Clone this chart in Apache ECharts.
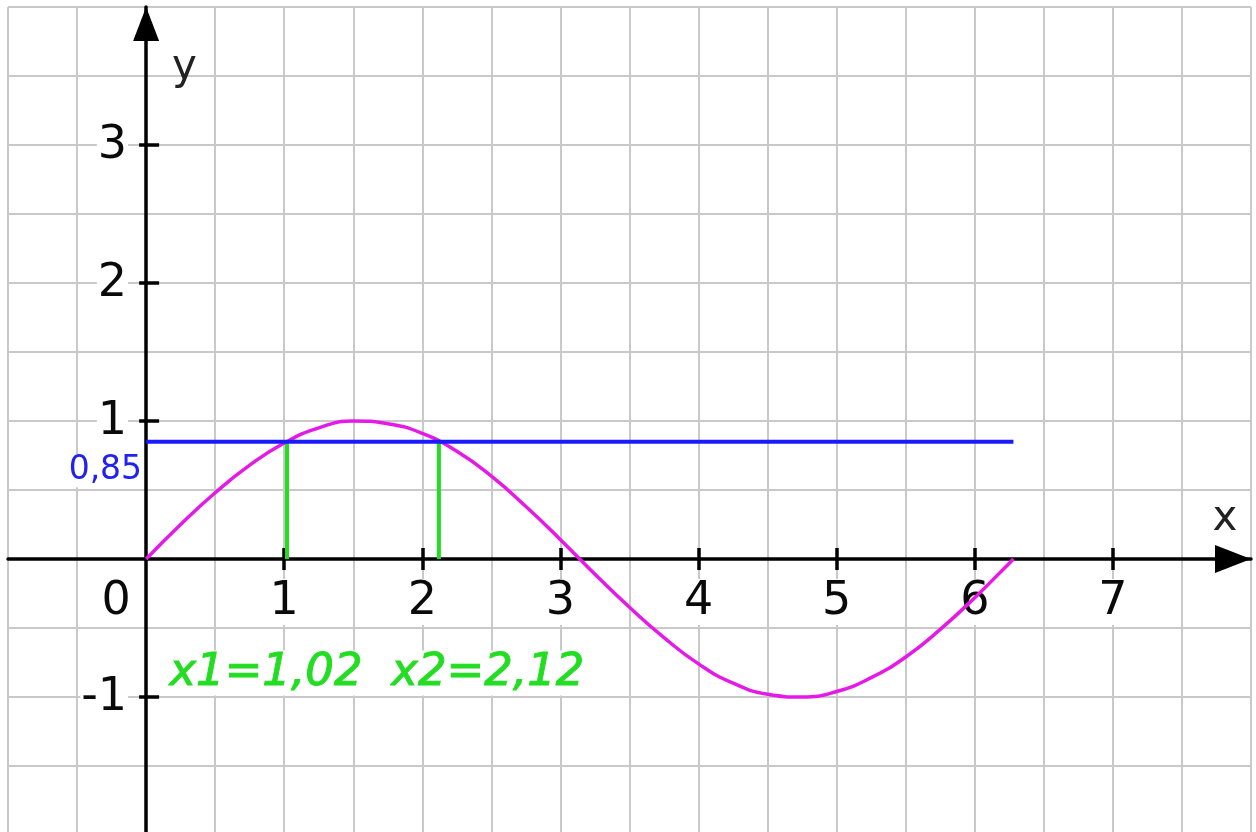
<!DOCTYPE html>
<html>
<head>
<meta charset="utf-8">
<script src="https://cdn.jsdelivr.net/npm/echarts@6/dist/echarts.min.js"></script>
<style>
  html, body { margin: 0; padding: 0; background: #ffffff; }
  #chart { width: 1256px; height: 832px; }
</style>
</head>
<body>
<div id="chart"></div>
<script>
// y = sin x over one period, sampled along the curve
const curveX = [0, 0.25, 0.5, 0.75, 1, 1.25, 1.5, 1.75, 2, 2.25, 2.5, 2.75, 3, 3.25,
  3.5, 3.75, 4, 4.25, 4.5, 4.75, 5, 5.25, 5.5, 5.75, 6, 6.25, 6.28];
const curveY = [0, 0.25, 0.48, 0.68, 0.84, 0.95, 1.0, 0.98, 0.91, 0.78, 0.6, 0.38, 0.14, -0.11,
  -0.35, -0.57, -0.76, -0.9, -0.98, -1.0, -0.96, -0.86, -0.71, -0.51, -0.28, -0.03, 0];

// horizontal level y = 0.85 and its crossings with the curve
const level = 0.85;
const levelStartX = 0;
const levelEndX = 6.28;
const roots = [1.02, 2.12];

// axis ticks and labels
const xTickValues = [1, 2, 3, 4, 5, 6, 7];
const xLabelValues = [0, 1, 2, 3, 4, 5, 6, 7];
const yTickValues = [-1, 1, 2, 3];
const yLabelValues = [-1, 1, 2, 3];

const FONT = 'DejaVu Sans';
const GRID_COLOR = '#c9c9c9';
const AXIS_COLOR = '#000000';
const TEXT_COLOR = '#0a0a0a';
const CURVE_COLOR = '#e61ae6';
const LEVEL_COLOR = '#1a1aff';
const ROOT_COLOR = '#22dd22';

// label offsets (pixels)
const rootLabelOffsets = [[-21, 114], [49, 114]];
const xLabelOffset = [0, 43];
const originLabelOffset = [-30, 43];

const fmt = v => v.toFixed(2).replace('.', ',');

const chart = echarts.init(document.getElementById('chart'), null, { renderer: 'canvas' });

const X_RANGE = { min: -1, max: 8 };
const Y_RANGE = { min: -2, max: 4 };
const tickLine = { color: AXIS_COLOR, width: 3.5 };
const solid = { opacity: 1 };

const numberLabel = {
  show: true, fontFamily: FONT, fontSize: 46, color: TEXT_COLOR, opacity: 1,
  backgroundColor: '#ffffff', padding: [0, 1, 0, 1]
};

// grid-only axis: light lines every half unit
const gridAxis = range => Object.assign({
  type: 'value', interval: 0.5,
  axisLine: { show: false, onZero: false },
  axisTick: { show: false },
  axisLabel: { show: false },
  splitLine: { show: true, lineStyle: { color: GRID_COLOR, width: 2 } }
}, range);

const option = {
  animation: false,
  backgroundColor: '#ffffff',
  grid: { left: 8, top: 7, width: 1243, height: 828, containLabel: false, outerBoundsMode: 'none' },
  xAxis: [
    {
      type: 'value', min: X_RANGE.min, max: X_RANGE.max, interval: 1,
      name: 'x', nameLocation: 'end', nameGap: -26, nameMoveOverlap: false,
      nameTextStyle: { fontFamily: FONT, fontSize: 42, color: '#222222', align: 'center', verticalAlign: 'bottom', padding: [0, 0, 19, 0] },
      axisLine: { show: true, onZero: true, onZeroAxisIndex: 0, symbol: ['none', 'triangle'], symbolSize: [28, 36], symbolOffset: [0, -18],
        lineStyle: { color: AXIS_COLOR, width: 3.5 } },
      axisTick: { show: true, inside: false, length: 11, customValues: xTickValues, lineStyle: tickLine },
      axisLabel: { show: false },
      splitLine: { show: false }
    },
    {
      type: 'value', min: X_RANGE.min, max: X_RANGE.max, interval: 1, position: 'bottom',
      axisLine: { show: false, onZero: true, onZeroAxisIndex: 0 },
      axisTick: { show: true, inside: true, length: 11, customValues: xTickValues, lineStyle: tickLine },
      axisLabel: { show: false },
      splitLine: { show: false }
    },
    gridAxis(X_RANGE)
  ],
  yAxis: [
    {
      type: 'value', min: Y_RANGE.min, max: Y_RANGE.max, interval: 1,
      name: 'y', nameLocation: 'end', nameGap: -61, nameMoveOverlap: false,
      nameTextStyle: { fontFamily: FONT, fontSize: 42, color: '#222222', align: 'left', verticalAlign: 'middle', padding: [0, 0, 0, 26] },
      axisLine: { show: true, onZero: true, onZeroAxisIndex: 0, symbol: ['none', 'triangle'], symbolSize: [26, 34], symbolOffset: [0, -17],
        lineStyle: { color: AXIS_COLOR, width: 3.5 } },
      axisTick: { show: true, inside: true, length: 13, customValues: yTickValues, lineStyle: tickLine },
      axisLabel: { show: false },
      splitLine: { show: false }
    },
    {
      type: 'value', min: Y_RANGE.min, max: Y_RANGE.max, interval: 1, position: 'left',
      axisLine: { show: false, onZero: true, onZeroAxisIndex: 0 },
      axisTick: { show: true, inside: false, length: 7, customValues: yTickValues, lineStyle: tickLine },
      axisLabel: { show: false },
      splitLine: { show: false }
    },
    gridAxis(Y_RANGE)
  ],
  series: [
    // numbers along the x axis (the origin's 0 sits left of the y axis)
    {
      name: 'x numbers', type: 'scatter', xAxisIndex: 0, yAxisIndex: 0,
      data: xLabelValues.map(v => ({
        value: [v, 0],
        label: { offset: v === 0 ? originLabelOffset : xLabelOffset }
      })),
      symbolSize: 0, z: 1, silent: true, itemStyle: solid,
      label: Object.assign({}, numberLabel, { position: 'inside', formatter: p => String(p.value[0]) })
    },
    // numbers along the y axis
    {
      name: 'y numbers', type: 'scatter', xAxisIndex: 0, yAxisIndex: 0,
      data: yLabelValues.map(v => [0, v]),
      symbolSize: 0, z: 1, silent: true, itemStyle: solid,
      label: Object.assign({}, numberLabel, { position: 'left', distance: 18, offset: [0, 1], formatter: p => String(p.value[1]) })
    },
    {
      name: 'sin x', type: 'line', xAxisIndex: 0, yAxisIndex: 0,
      data: curveX.map((x, i) => [x, curveY[i]]),
      smooth: true, symbol: 'none', z: 3,
      lineStyle: { color: CURVE_COLOR, width: 3.5 }
    },
    ...roots.map((r, i) => ({
      name: 'root' + (i + 1), type: 'line', xAxisIndex: 0, yAxisIndex: 0,
      data: [[r, 0], [r, level]], symbol: 'none', z: 2,
      lineStyle: { color: ROOT_COLOR, width: 4 }
    })),
    {
      name: 'level', type: 'line', xAxisIndex: 0, yAxisIndex: 0,
      data: [[levelStartX, level], [levelEndX, level]], symbol: 'none', z: 4,
      lineStyle: { color: LEVEL_COLOR, width: 4 }
    },
    {
      name: 'level label', type: 'scatter', xAxisIndex: 0, yAxisIndex: 0,
      data: [[levelStartX, level]], symbolSize: 0, z: 5, silent: true, itemStyle: solid,
      label: {
        show: true, position: 'left', distance: 4, offset: [0, 29],
        formatter: p => fmt(p.value[1]),
        fontFamily: FONT, fontSize: 33, color: '#2222ee', opacity: 1, backgroundColor: '#ffffff'
      }
    },
    {
      name: 'root labels', type: 'scatter', xAxisIndex: 0, yAxisIndex: 0,
      data: roots.map((r, i) => ({
        value: [r, 0],
        label: { offset: rootLabelOffsets[i] }
      })),
      symbolSize: 0, z: 5, silent: true, itemStyle: solid,
      label: {
        show: true, position: 'inside', opacity: 1,
        formatter: p => 'x' + (p.dataIndex + 1) + '=' + fmt(p.value[0]),
        fontFamily: FONT, fontSize: 45, fontStyle: 'italic', color: ROOT_COLOR,
        textBorderColor: ROOT_COLOR, textBorderWidth: 1,
        backgroundColor: '#ffffff', padding: [0, 4, 0, 4]
      }
    }
  ]
};

chart.setOption(option);
</script>
</body>
</html>
